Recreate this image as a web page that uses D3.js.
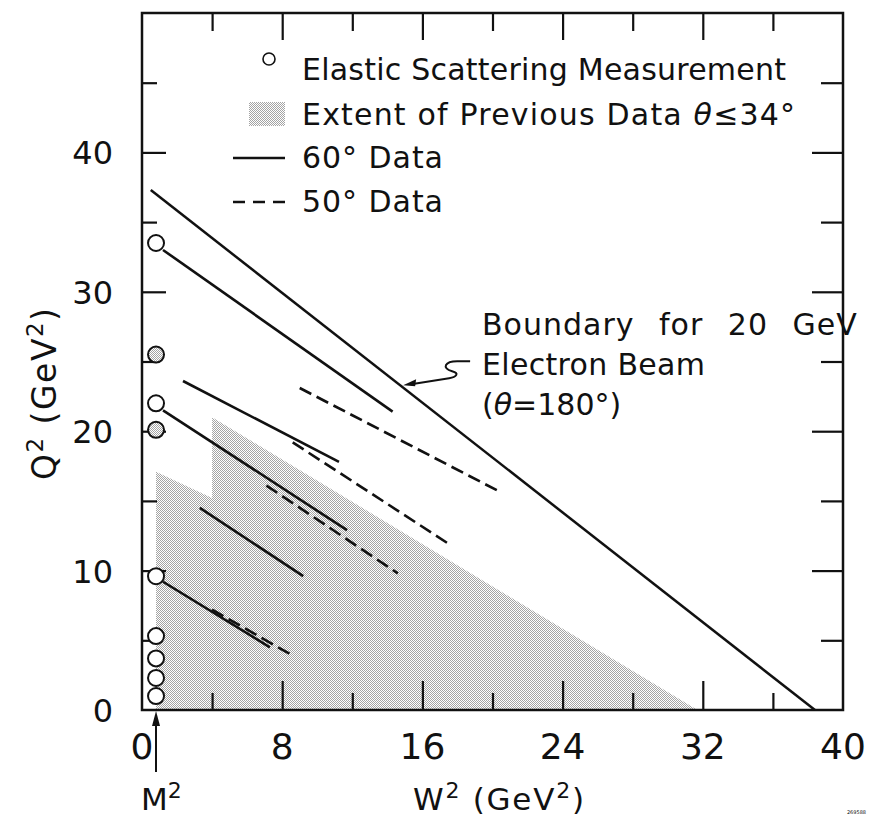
<!DOCTYPE html>
<html>
<head>
<meta charset="utf-8">
<script src="https://cdn.jsdelivr.net/npm/d3@7"></script>
<style>
  body { margin: 0; background: #fff; }
  svg { display: block; }
  text { font-family: "DejaVu Sans", Lato, sans-serif; fill: #111; }
</style>
</head>
<body>
<svg id="chart" width="869" height="817"></svg>
<script>
// axis ticks
var xLabels = [0, 8, 16, 24, 32, 40];
var xMinor = [4, 12, 20, 28, 36];
var yLabels = [0, 10, 20, 30, 40];
var yMinor = [5, 15, 25, 35, 45];

// elastic scattering points, all at W^2 = M^2
var elasticW2 = 0.8;
var elasticOpen = [1.0, 2.3, 3.7, 5.3, 9.6, 22.0, 33.5];
var elasticFilled = [20.1, 25.5];

// extent of previous data (theta <= 34 deg)
var previousExtent = [[0.8, 0], [0.8, 17.1], [4.0, 15.2], [4.0, 21.0], [31.7, 0]];

// kinematic boundary for a 20 GeV beam at 180 deg
var boundary20 = [[0.5, 37.3], [38.4, 0]];

// 60 deg data (solid) and 50 deg data (dashed), segment end points [W2, Q2]
var data60 = [
  [[1.2, 33.0], [14.3, 21.4]],
  [[2.34, 23.6], [11.24, 17.8]],
  [[1.2, 21.5], [11.7, 12.9]],
  [[3.3, 14.5], [9.2, 9.6]],
  [[1.2, 9.2], [7.3, 4.5]]
];
var data50 = [
  [[9.0, 23.1], [20.5, 15.6]],
  [[8.6, 19.2], [17.4, 12.0]],
  [[7.1, 16.1], [14.6, 9.8]],
  [[4.0, 7.2], [8.6, 3.9]]
];

var svg = d3.select("#chart");
var x = d3.scaleLinear().domain([0, 40]).range([142, 843]);
var y = d3.scaleLinear().domain([0, 50]).range([710, 13]);

var defs = svg.append("defs");
var pat = defs.append("pattern").attr("id", "stip")
  .attr("width", 2).attr("height", 2).attr("patternUnits", "userSpaceOnUse");
pat.append("rect").attr("width", 2).attr("height", 2).attr("fill", "#fff");
pat.append("rect").attr("width", 1).attr("height", 1).attr("fill", "#a4a4a4");
pat.append("rect").attr("x", 1).attr("y", 1).attr("width", 1).attr("height", 1).attr("fill", "#a4a4a4");

// shaded region
svg.append("path")
  .datum(previousExtent)
  .attr("d", d3.line().x(function(d) { return x(d[0]); }).y(function(d) { return y(d[1]); }))
  .attr("fill", "url(#stip)");

// frame
svg.append("rect")
  .attr("x", x(0)).attr("y", y(50))
  .attr("width", x(40) - x(0)).attr("height", y(0) - y(50))
  .attr("fill", "none").attr("stroke", "#111").attr("stroke-width", 2.5);

function ticks(axis, vals, len, tx, ty) {
  var g = svg.append("g").attr("transform", "translate(" + tx + "," + ty + ")")
    .call(axis.tickValues(vals).tickSize(-len).tickFormat(""));
  g.select(".domain").remove();
  g.selectAll("line").attr("stroke", "#111").attr("stroke-width", 2.2);
  return g;
}
ticks(d3.axisBottom(x), xLabels.slice(1, -1), 29, 0, y(0));
ticks(d3.axisBottom(x), xMinor, 17, 0, y(0));
ticks(d3.axisTop(x), xLabels.slice(1, -1), 27, 0, y(50));
ticks(d3.axisTop(x), xMinor, 18, 0, y(50));
ticks(d3.axisLeft(y), yLabels.slice(1), 24, x(0), 0);
ticks(d3.axisLeft(y), yMinor, 15, x(0), 0);
ticks(d3.axisRight(y), yLabels.slice(1), 31, x(40), 0);
ticks(d3.axisRight(y), yMinor, 22, x(40), 0);

// tick labels
svg.append("g").selectAll("text").data(xLabels).join("text")
  .attr("x", function(d) { return x(d); })
  .attr("y", 759)
  .attr("text-anchor", "middle")
  .attr("font-size", 36)
  .text(function(d) { return d; });
svg.append("g").selectAll("text").data(yLabels).join("text")
  .attr("x", 113)
  .attr("y", function(d) { return y(d) + 12; })
  .attr("text-anchor", "end")
  .attr("font-size", 32)
  .text(function(d) { return d; });

// boundary line
var line = d3.line().x(function(d) { return x(d[0]); }).y(function(d) { return y(d[1]); });
svg.append("path").datum(boundary20).attr("d", line)
  .attr("fill", "none").attr("stroke", "#111").attr("stroke-width", 2.5);

svg.append("g").selectAll("path").data(data60).join("path")
  .attr("d", line).attr("fill", "none").attr("stroke", "#111").attr("stroke-width", 2.6);
svg.append("g").selectAll("path").data(data50).join("path")
  .attr("d", line).attr("fill", "none").attr("stroke", "#111").attr("stroke-width", 2.6)
  .attr("stroke-dasharray", "13,6");

// elastic points
svg.append("g").selectAll("circle").data(elasticOpen).join("circle")
  .attr("cx", x(elasticW2)).attr("cy", function(d) { return y(d); }).attr("r", 8)
  .attr("fill", "#fff").attr("stroke", "#111").attr("stroke-width", 2);
svg.append("g").selectAll("circle").data(elasticFilled).join("circle")
  .attr("cx", x(elasticW2)).attr("cy", function(d) { return y(d); }).attr("r", 8)
  .attr("fill", "url(#stip)").attr("stroke", "#111").attr("stroke-width", 2);

// legend
var lx = 302;
svg.append("circle").attr("cx", 269).attr("cy", 59).attr("r", 6)
  .attr("fill", "#fff").attr("stroke", "#111").attr("stroke-width", 1.6);
svg.append("rect").attr("x", 249).attr("y", 102).attr("width", 36).attr("height", 24)
  .attr("fill", "url(#stip)");
svg.append("line").attr("x1", 233).attr("x2", 285).attr("y1", 158).attr("y2", 158)
  .attr("stroke", "#111").attr("stroke-width", 2.4);
svg.append("line").attr("x1", 233).attr("x2", 285).attr("y1", 202).attr("y2", 202)
  .attr("stroke", "#111").attr("stroke-width", 2.4).attr("stroke-dasharray", "12,8");

function label(tx, ty, w) {
  return svg.append("text").attr("x", tx).attr("y", ty).attr("font-size", 30)
    .attr("textLength", w).attr("lengthAdjust", "spacing");
}
label(lx, 80, 484).text("Elastic Scattering Measurement");
var t2 = label(lx, 125, 493);
t2.append("tspan").text("Extent of Previous Data ");
t2.append("tspan").attr("font-style", "italic").text("θ");
t2.append("tspan").text("≤34°");
label(lx, 168, 141).text("60° Data");
label(lx, 212, 141).text("50° Data");

// annotation
svg.append("text").attr("x", 482).attr("y", 335).attr("font-size", 30)
  .attr("word-spacing", 14).attr("letter-spacing", 1)
  .text("Boundary for 20 GeV");
label(482, 375, 223).text("Electron Beam");
var t3 = svg.append("text").attr("x", 482).attr("y", 415).attr("font-size", 30);
t3.append("tspan").text("(");
t3.append("tspan").attr("font-style", "italic").text("θ");
t3.append("tspan").text("=180°)");

var tip = [x(14.9), y(23.3)];
svg.append("path")
  .attr("d", "M" + (tip[0] + 67) + "," + (tip[1] - 24) +
    " L" + (tip[0] + 54) + "," + (tip[1] - 24) +
    " C" + (tip[0] + 42) + "," + (tip[1] - 24) + " " + (tip[0] + 38) + "," + (tip[1] - 17) + " " + (tip[0] + 49) + "," + (tip[1] - 14) +
    " C" + (tip[0] + 57) + "," + (tip[1] - 12) + " " + (tip[0] + 53) + "," + (tip[1] - 8) + " " + (tip[0] + 46) + "," + (tip[1] - 7) +
    " L" + (tip[0] + 8) + "," + (tip[1] - 1))
  .attr("fill", "none").attr("stroke", "#111").attr("stroke-width", 2);
svg.append("path")
  .attr("d", "M" + tip[0] + "," + tip[1] + " L" + (tip[0] + 13) + "," + (tip[1] - 6) + " L" + (tip[0] + 12) + "," + (tip[1] + 1) + "Z")
  .attr("fill", "#111");

// axis titles
var yt = svg.append("text").attr("transform", "translate(56,480) rotate(-90)")
  .attr("font-size", 33).attr("textLength", 172).attr("lengthAdjust", "spacing");
yt.append("tspan").text("Q");
yt.append("tspan").attr("dy", -13).attr("font-size", 23).text("2");
yt.append("tspan").attr("dy", 13).text(" (GeV");
yt.append("tspan").attr("dy", -13).attr("font-size", 23).text("2");
yt.append("tspan").attr("dy", 13).text(")");

var xt = svg.append("text").attr("x", 413).attr("y", 810).attr("font-size", 31)
  .attr("textLength", 171).attr("lengthAdjust", "spacing");
xt.append("tspan").text("W");
xt.append("tspan").attr("dy", -12).attr("font-size", 22).text("2");
xt.append("tspan").attr("dy", 12).text(" (GeV");
xt.append("tspan").attr("dy", -12).attr("font-size", 22).text("2");
xt.append("tspan").attr("dy", 12).text(")");

var mt = svg.append("text").attr("x", 141).attr("y", 810).attr("font-size", 31);
mt.append("tspan").text("M");
mt.append("tspan").attr("dy", -12).attr("font-size", 22).text("2");

// M^2 arrow
svg.append("line").attr("x1", x(elasticW2)).attr("x2", x(elasticW2))
  .attr("y1", 772).attr("y2", 722).attr("stroke", "#111").attr("stroke-width", 2);
svg.append("path")
  .attr("d", "M" + x(elasticW2) + ",711 L" + (x(elasticW2) - 4) + ",726 L" + (x(elasticW2) + 4) + ",726Z")
  .attr("fill", "#111");

svg.append("text").attr("x", 866).attr("y", 814).attr("text-anchor", "end")
  .attr("font-size", 5).text("269588");
</script>
</body>
</html>
